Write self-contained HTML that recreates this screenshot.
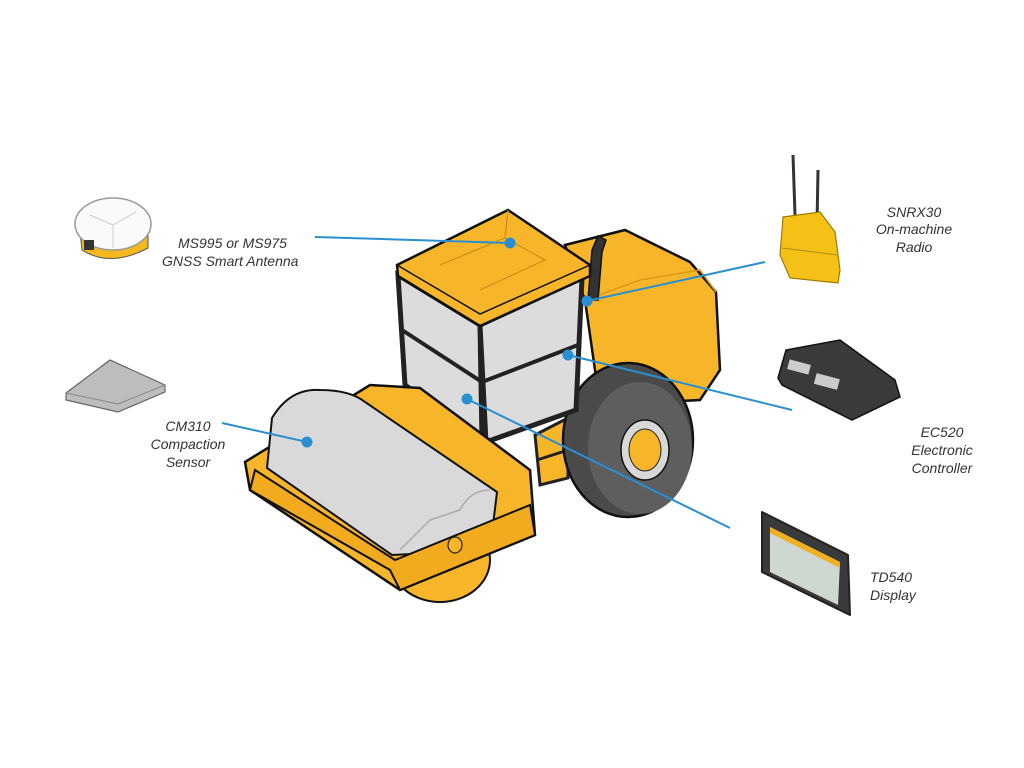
<!DOCTYPE html>
<html><head><meta charset="utf-8"><style>
html,body{margin:0;padding:0;background:#fff;}
svg{display:block;}
text{font-family:"Liberation Sans",sans-serif;font-style:italic;font-size:14px;fill:#333;}
</style></head><body>
<svg width="1024" height="768" viewBox="0 0 1024 768" xmlns="http://www.w3.org/2000/svg">
<rect width="1024" height="768" fill="#fff"/>
<!-- rear body -->
<path d="M565,245 L625,230 L690,262 L716,292 L720,370 L700,400 L600,405 L585,300 Z" fill="#f7b52a" stroke="#111" stroke-width="2.5"/>
<path d="M585,300 L640,280 L700,270 L716,292" fill="none" stroke="#d99a1c" stroke-width="1.5"/>
<!-- exhaust -->
<path d="M588,300 L592,250 L598,236 L606,240 L602,252 L598,300 Z" fill="#333" stroke="#111" stroke-width="1.5"/>
<!-- ladder -->
<path d="M535,435 L568,418 L568,478 L540,485 Z" fill="#f7b52a" stroke="#222" stroke-width="3"/>
<line x1="537" y1="460" x2="568" y2="450" stroke="#222" stroke-width="3"/>
<!-- wheel -->
<ellipse cx="628" cy="440" rx="65" ry="77" fill="#4a4a4a" stroke="#111" stroke-width="2.5"/>
<ellipse cx="640" cy="448" rx="52" ry="66" fill="#5e5e5e"/>
<ellipse cx="645" cy="450" rx="24" ry="30" fill="#d8d8d8" stroke="#111" stroke-width="1.5"/>
<ellipse cx="645" cy="450" rx="16" ry="21" fill="#f7b52a" stroke="#222" stroke-width="1"/>
<!-- cab glass -->
<path d="M398,275 L480,325 L482,440 L405,385 Z" fill="#dcdcdc" stroke="#222" stroke-width="5"/>
<path d="M480,325 L582,278 L576,410 L486,442 Z" fill="#dcdcdc" stroke="#222" stroke-width="5"/>
<path d="M402,330 L482,382 L578,345" fill="none" stroke="#222" stroke-width="4"/>
<!-- roof -->
<path d="M508,210 L590,265 L590,276 L480,326 L398,276 L397,265 Z" fill="#f7b52a" stroke="#111" stroke-width="2.5"/>
<path d="M397,265 L480,314 L590,265" fill="none" stroke="#111" stroke-width="1.5"/>
<path d="M508,210 L505,238 L440,265 M505,238 L545,260 L480,290" fill="none" stroke="#c98f15" stroke-width="1.2"/>
<!-- lower drum visible -->
<ellipse cx="440" cy="560" rx="50" ry="42" fill="#f7b52a" stroke="#111" stroke-width="2"/>
<!-- frame -->
<path d="M245,462 L370,385 L420,388 L530,470 L535,535 L400,590 L250,490 Z" fill="#f7b52a" stroke="#111" stroke-width="2.5"/>
<!-- drum -->
<path d="M267,468 L272,418 Q290,388 320,390 Q350,390 365,402 L497,492 L490,550 L392,555 Z" fill="#d9d9d9" stroke="#111" stroke-width="2"/>
<path d="M490,490 Q470,490 460,510 L430,520 L400,550" fill="none" stroke="#aaa" stroke-width="1.5"/>
<!-- front frame face -->
<path d="M250,490 L390,570 L400,590 L535,535 L530,505 L395,560 L255,470 Z" fill="#f2aa1f" stroke="#111" stroke-width="2"/>
<ellipse cx="455" cy="545" rx="7" ry="8" fill="#f7b52a" stroke="#222" stroke-width="1.2"/>
<!-- antenna device -->
<path d="M80,232 L82,250 Q110,268 148,248 L148,228 Z" fill="#f5b81f" stroke="#555" stroke-width="1"/>
<ellipse cx="113" cy="224" rx="38" ry="26" fill="#fafafa" stroke="#999" stroke-width="1.5"/>
<path d="M90,215 L113,225 L136,212 M113,225 L113,248" stroke="#ccc" fill="none"/>
<rect x="84" y="240" width="10" height="10" fill="#333"/>
<!-- sensor -->
<path d="M66,393 L110,360 L165,385 L165,392 L118,412 L66,400 Z" fill="#bdbdbd" stroke="#666" stroke-width="1.2"/>
<path d="M66,393 L118,404 L165,385" fill="none" stroke="#888"/>
<!-- radio -->
<line x1="793" y1="155" x2="795" y2="215" stroke="#333" stroke-width="3"/>
<line x1="818" y1="170" x2="817" y2="225" stroke="#333" stroke-width="3"/>
<path d="M783,217 L820,212 L835,232 L840,270 L838,283 L790,278 L780,255 Z" fill="#f5c116" stroke="#a07a00" stroke-width="1.2"/>
<line x1="782" y1="248" x2="838" y2="255" stroke="#b08a10"/>
<!-- EC520 -->
<path d="M778,378 L786,350 L840,340 L895,380 L900,397 L852,420 L782,385 Z" fill="#3a3a3a" stroke="#111" stroke-width="1.5"/>
<rect x="788" y="362" width="22" height="10" fill="#ccc" transform="rotate(15 799 367)"/>
<rect x="815" y="376" width="24" height="11" fill="#ccc" transform="rotate(15 827 381)"/>
<!-- TD540 -->
<path d="M762,512 L848,555 L850,615 L762,572 Z" fill="#3a3a3a" stroke="#222" stroke-width="2" stroke-linejoin="round"/>
<path d="M770,527 L840,562 L838,605 L770,572 Z" fill="#cfd8d0"/>
<path d="M770,527 L840,562 L840,568 L770,533 Z" fill="#f0b020"/>
<!-- connectors -->
<g stroke="#2a8fd0" stroke-width="2" fill="#2a8fd0">
<line x1="315" y1="237" x2="510" y2="243"/><circle cx="510" cy="243" r="4.5"/>
<line x1="765" y1="262" x2="587" y2="301"/><circle cx="587" cy="301" r="4.5"/>
<line x1="792" y1="410" x2="568" y2="355"/><circle cx="568" cy="355" r="4.5"/>
<line x1="730" y1="528" x2="467" y2="399"/><circle cx="467" cy="399" r="4.5"/>
<line x1="222" y1="423" x2="307" y2="442"/><circle cx="307" cy="442" r="4.5"/>
</g>
<!-- labels -->
<text x="178" y="248">MS995 or MS975</text>
<text x="162" y="266">GNSS Smart Antenna</text>
<text x="914" y="217" text-anchor="middle">SNRX30</text>
<text x="914" y="234" text-anchor="middle">On-machine</text>
<text x="914" y="252" text-anchor="middle">Radio</text>
<text x="942" y="437" text-anchor="middle">EC520</text>
<text x="942" y="455" text-anchor="middle">Electronic</text>
<text x="942" y="473" text-anchor="middle">Controller</text>
<text x="870" y="582">TD540</text>
<text x="870" y="600">Display</text>
<text x="188" y="431" text-anchor="middle">CM310</text>
<text x="188" y="449" text-anchor="middle">Compaction</text>
<text x="188" y="467" text-anchor="middle">Sensor</text>
</svg>
</body></html>
